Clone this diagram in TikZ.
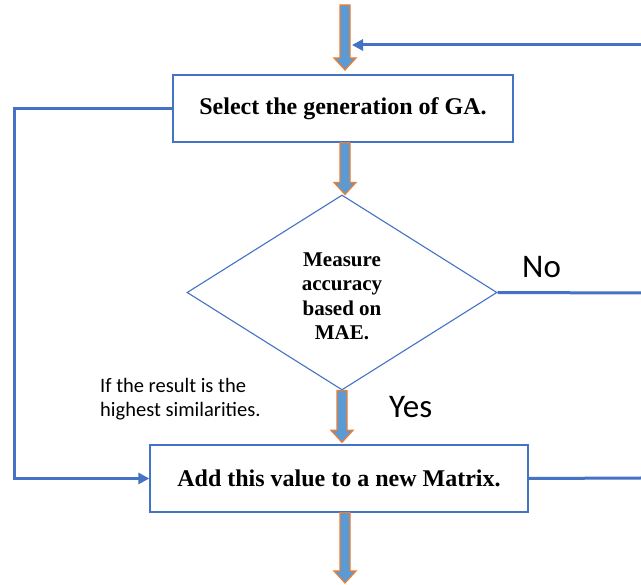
\documentclass[tikz,border=0pt]{standalone}
\usepackage{fontspec}
\setmainfont{Liberation Serif}
\newfontfamily\calib{Carlito}
\usetikzlibrary{shapes.geometric,arrows.meta,calc}
\definecolor{lineblue}{HTML}{4472C4}
\definecolor{fillblue}{HTML}{5B9BD5}
\definecolor{edgeorange}{HTML}{ED7D31}
\tikzset{
  boxnode/.style={draw=lineblue,line width=1.3pt,fill=white,minimum height=67pt,inner sep=0pt,font=\fontsize{24}{28}\selectfont\bfseries},
  decision/.style={diamond,draw=lineblue,line width=1.1pt,fill=white,minimum width=310pt,minimum height=195pt,inner sep=0pt,align=center,font=\fontsize{21}{24.5}\selectfont\bfseries},
  flowline/.style={draw=lineblue,line width=3pt},
  blockarr/.style={draw=edgeorange,fill=fillblue,line width=1.2pt,line join=miter},
  bigtag/.style={font=\calib\fontsize{33}{36}\selectfont,inner sep=0pt},
  note/.style={font=\calib\fontsize{20.5}{24}\selectfont,align=left,inner sep=0pt}
}
\newcommand\blockarrow[2]{%
  \path[blockarr] let \p1=#1, \p2=#2 in
    (\x1-5pt,\y1) -- (\x1+5pt,\y1) -- (\x1+5pt,\y2+12pt) -- (\x1+11pt,\y2+12pt)
    -- (\x1,\y2) -- (\x1-11pt,\y2+12pt) -- (\x1-5pt,\y2+12pt) -- cycle;}
\begin{document}
\begin{tikzpicture}[x=1pt,y=-1pt]
\useasboundingbox[fill=white] (0,0) rectangle (641,585);
\node[boxnode,minimum width=340pt] (sel) at (343,108.5) {Select the generation of GA.};
\node[decision] (dec) at (342,292.5) {\\[-3pt]Measure\\accuracy\\based on\\MAE.};
\node[boxnode,minimum width=378pt] (add) at (339,478.5) {Add this value to a new Matrix.};
\coordinate (topin) at (345,5);
\coordinate (topend) at (345,70);
\coordinate (botend) at (345,583);
\coordinate (fbright) at (641,45);
\coordinate (fbhead) at (352,45);
\coordinate (leftx) at (14,0);
\coordinate (noend) at (641,293);
\coordinate (addend) at (641,478);
% block arrows
\blockarrow{(topin)}{(topend)}
\blockarrow{($(sel.south)+(2,0)$)}{(dec.north)}
\blockarrow{(dec.south)}{($(add.north)+(3,-2)$)}
\blockarrow{($(add.south)+(6,0)$)}{(botend)}
% feedback lines
\draw[flowline,-{Triangle[width=11pt,length=11pt]}] (fbright) -- (fbhead);
\draw[flowline,-{Triangle[width=11pt,length=11pt]}] (sel.west) -- (leftx |- sel.west) -- (leftx |- add.west) -- (add.west);
\draw[flowline] (dec.east) -- (noend);
\draw[flowline] (add.east) -- (addend);
% labels
\node[bigtag,anchor=base west] (no) at (522,278) {No};
\node[bigtag,anchor=base west] (yes) at (389,418) {Yes};
\node[note,anchor=base west] (cond) at (100,417) {If the result is the\\highest similarities.};
\end{tikzpicture}
\end{document}
